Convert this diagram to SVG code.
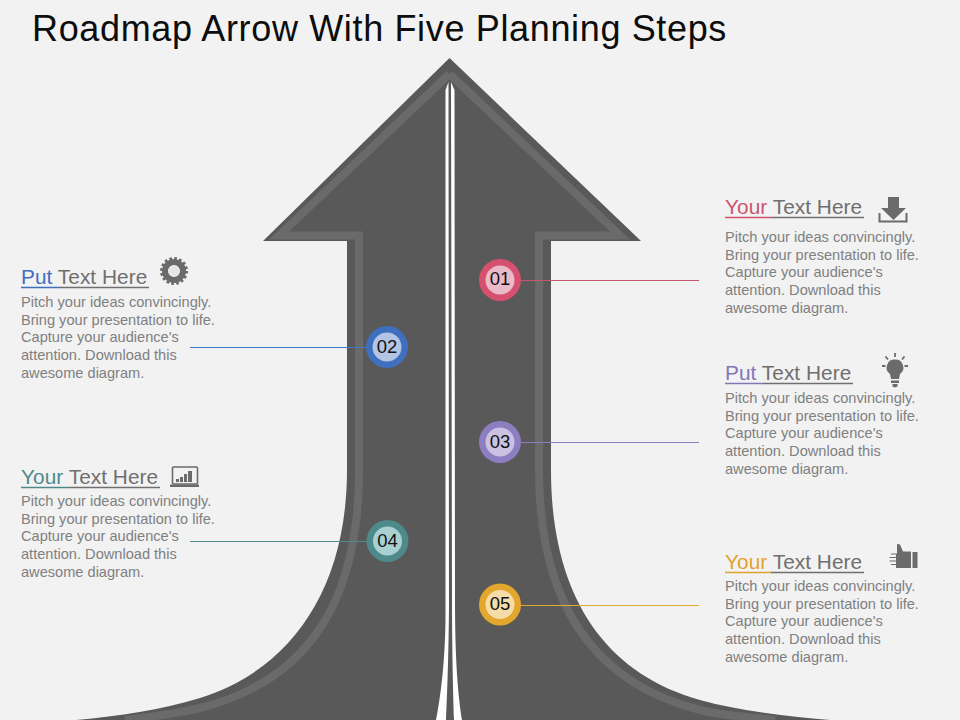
<svg xmlns="http://www.w3.org/2000/svg" width="960" height="720" viewBox="0 0 960 720">
<style>
text{font-family:"Liberation Sans",Arial,sans-serif}
.t{font-size:36px;fill:#0d0d0d;letter-spacing:.65px}
.h{font-size:20.8px;fill:#6f6f6f;letter-spacing:.05px}
.b{font-size:14.6px;fill:#808080}
.n{font-size:18.5px;fill:#111;text-anchor:middle}
.i{fill:#6b6b6b}
.il{fill:none;stroke:#6b6b6b}
.u{stroke:#6f6f6f;stroke-width:1.6;fill:none}
</style>
<rect width="960" height="720" fill="#f2f2f2"/>
<text class="t" x="32" y="41">Roadmap Arrow With Five Planning Steps</text>
<g id="road">
<path d="M449.500 58L641 241H551V470C551 590 600 672 700 700C740 711 785 716 830 720H76C120 716 160 710 200 698C290 670 347 590 347 470V241H263Z" fill="#595959"/>
<path d="M449.500 74L620 235.500H539V470C539 600 590 682 700 710C725 716 750 717 775 720M449.500 74L279 235.500H359V470C359 600 310 680 200 708C175 714 150 717 125 720" fill="none" stroke="#6a6a6a" stroke-width="8"/>
<path d="M448.500 82L445.500 90V620C445 660 441 695 436 720H446C447.500 690 449 640 449 600Z" fill="#fff"/>
<path d="M451 82L452 600C452 640 453 690 454 720H462C458 695 455 660 455 600L454.500 90Z" fill="#fff"/>
</g>
<g id="connectors" fill="none" stroke-width="1.200">
<path d="M521 280.500H699" stroke="#c9566f"/>
<path d="M190 347.500H367" stroke="#3f78c8"/>
<path d="M521 442.500H699" stroke="#8a7fc0"/>
<path d="M190 541.500H367" stroke="#4f8a8b"/>
<path d="M521 605.500H699" stroke="#e2a836"/>
</g>
<g id="node-01">
<circle cx="500" cy="280" r="21" fill="#d6506f"/><circle cx="500" cy="280" r="14.500" fill="#ecb9c8"/>
<text class="n" x="500" y="285">01</text>
<text class="h" x="725" y="214"><tspan fill="#c9566f">Your </tspan>Text Here</text>
<path class="u" d="M771 217.500H864"/><path d="M725 217.500H771" stroke="#d6506f" stroke-width="1.600"/>
<text class="b" x="725" y="242">Pitch your ideas convincingly.</text>
<text class="b" x="725" y="260">Bring your presentation to life.</text>
<text class="b" x="725" y="277">Capture your audience's</text>
<text class="b" x="725" y="295">attention. Download this</text>
<text class="b" x="725" y="313">awesome diagram.</text>
<path class="i" d="M888 197H899V208H906L893.500 220L881 208H888Z"/>
<path class="il" stroke-width="2" d="M879.500 213V221.500H906.500V213"/>
</g>
<g id="node-02">
<circle cx="387" cy="347" r="21" fill="#3f6fbf"/><circle cx="387" cy="347" r="14.500" fill="#b4c4e4"/>
<text class="n" x="387" y="353">02</text>
<text class="h" x="21" y="284"><tspan fill="#3f6fbf">Put </tspan>Text Here</text>
<path class="u" d="M60 287.500H149"/><path d="M21 287.500H60" stroke="#3f6fbf" stroke-width="1.600"/>
<text class="b" x="21" y="307">Pitch your ideas convincingly.</text>
<text class="b" x="21" y="325">Bring your presentation to life.</text>
<text class="b" x="21" y="342">Capture your audience's</text>
<text class="b" x="21" y="360">attention. Download this</text>
<text class="b" x="21" y="378">awesome diagram.</text>
<circle cx="174" cy="271" r="9" fill="none" stroke="#6b6b6b" stroke-width="6"/>
<circle cx="174" cy="271" r="12.500" fill="none" stroke="#6b6b6b" stroke-width="3" stroke-dasharray="2.600 2.300"/>
<circle cx="174" cy="271" r="5" fill="#e6e6e6"/>
</g>
<g id="node-03">
<circle cx="500" cy="442" r="21" fill="#8c7ec0"/><circle cx="500" cy="442" r="14.500" fill="#c9c2e2"/>
<text class="n" x="500" y="448">03</text>
<text class="h" x="725" y="380"><tspan fill="#8178b8">Put </tspan>Text Here</text>
<path class="u" d="M763 383.500H853"/><path d="M725 383.500H763" stroke="#8178b8" stroke-width="1.600"/>
<text class="b" x="725" y="403">Pitch your ideas convincingly.</text>
<text class="b" x="725" y="421">Bring your presentation to life.</text>
<text class="b" x="725" y="438">Capture your audience's</text>
<text class="b" x="725" y="456">attention. Download this</text>
<text class="b" x="725" y="474">awesome diagram.</text>
<path class="i" d="M895 359.500A8 8 0 0 1 900 374L899 379H891L890 374A8 8 0 0 1 895 359.500ZM891 380.500H899V383H891ZM892.500 384H897.500V386.500L895 387.500L892.500 386.500Z"/>
<path class="il" stroke-width="1.800" d="M895 353V357M885.500 356.500L888 359.500M904.500 356.500L902 359.500M882 366H885.500M908 366H904.500"/>
</g>
<g id="node-04">
<circle cx="387.500" cy="541" r="21" fill="#4f8a8b"/><circle cx="387.500" cy="541" r="14.500" fill="#a9d0d1"/>
<text class="n" x="387.500" y="547">04</text>
<text class="h" x="21" y="484"><tspan fill="#4f8a8b">Your </tspan>Text Here</text>
<path class="u" d="M70 487.500H160"/><path d="M21 487.500H70" stroke="#4f8a8b" stroke-width="1.600"/>
<text class="b" x="21" y="506">Pitch your ideas convincingly.</text>
<text class="b" x="21" y="524">Bring your presentation to life.</text>
<text class="b" x="21" y="541">Capture your audience's</text>
<text class="b" x="21" y="559">attention. Download this</text>
<text class="b" x="21" y="577">awesome diagram.</text>
<rect class="il" stroke-width="1.600" x="172.500" y="467" width="25" height="17" rx="1"/>
<path class="i" d="M170 484.500H199V487H170ZM176 479H179V482H176ZM180 477H183V482H180ZM184 474H187V482H184ZM188 471H192V482H188Z"/>
</g>
<g id="node-05">
<circle cx="500" cy="604.500" r="21" fill="#e4a72e"/><circle cx="500" cy="604.500" r="14.500" fill="#f6dca8"/>
<text class="n" x="500" y="610">05</text>
<text class="h" x="725" y="569"><tspan fill="#e2a22e">Your </tspan>Text Here</text>
<path class="u" d="M771 572.500H864"/><path d="M725 572.500H771" stroke="#e2a22e" stroke-width="1.600"/>
<text class="b" x="725" y="591">Pitch your ideas convincingly.</text>
<text class="b" x="725" y="609">Bring your presentation to life.</text>
<text class="b" x="725" y="626">Capture your audience's</text>
<text class="b" x="725" y="644">attention. Download this</text>
<text class="b" x="725" y="662">awesome diagram.</text>
<path class="i" d="M897 544L900 544.500L903 551.500H911V568H896V565H891V564H896V561.500H889.500V560.500H896V558H889.500V557H896V554.500H891V553.500H897ZM912.500 552H917.500V568H912.500Z"/>
</g>
</svg>
